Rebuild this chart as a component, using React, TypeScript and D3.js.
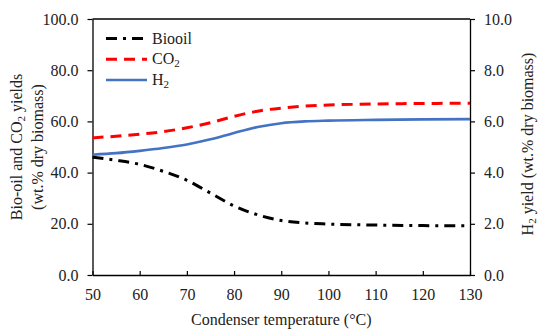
import * as d3 from "d3";
import { useEffect, useRef } from "react";

const temps = [50, 55, 60, 65, 70, 75, 80, 85, 90, 95, 100, 110, 120, 130];
const biooil = [46.0, 44.8, 43.2, 40.5, 37.0, 32.0, 27.0, 23.5, 21.3, 20.3, 19.9, 19.5, 19.3, 19.2];
const co2 = [53.6, 54.2, 55.0, 56.0, 57.5, 59.5, 62.0, 64.0, 65.2, 66.0, 66.4, 66.8, 67.0, 67.1];
const h2 = [4.7, 4.76, 4.85, 4.96, 5.1, 5.3, 5.55, 5.78, 5.93, 6.0, 6.03, 6.06, 6.08, 6.09];

const xTicks = [50, 60, 70, 80, 90, 100, 110, 120, 130];
const leftTicks = [0, 20, 40, 60, 80, 100];
const rightTicks = [0, 2, 4, 6, 8, 10];

const W = 550;
const H = 334;
const m = { left: 92.5, right: 80, top: 19, bottom: 59 };
const FONT = "'Liberation Serif', 'Times New Roman', serif";
const FS = 16;

const draw = (el: SVGSVGElement) => {
  const svg = d3.select(el);
  svg.selectAll("*").remove();
  const x = d3.scaleLinear().domain([50, 130]).range([m.left, W - m.right]);
  const yL = d3.scaleLinear().domain([0, 100]).range([H - m.bottom, m.top]);
  const yR = d3.scaleLinear().domain([0, 10]).range([H - m.bottom, m.top]);

  const g = svg.append("g").style("font-family", FONT);

  // frame top
  g.append("line")
    .attr("x1", x(50)).attr("x2", x(130))
    .attr("y1", yL(100)).attr("y2", yL(100))
    .attr("stroke", "#000").attr("stroke-width", 1.3);

  const styleAxis = (sel: any) => {
    sel.attr("font-family", null).attr("font-size", FS);
    sel.select(".domain").attr("stroke", "#000").attr("stroke-width", 1.3);
    sel.selectAll(".tick line").attr("stroke", "#000").attr("stroke-width", 1.2);
    sel.selectAll(".tick text").attr("fill", "#222").style("font-family", FONT);
  };

  g.append("g")
    .attr("transform", `translate(0,${H - m.bottom})`)
    .call(d3.axisBottom(x).tickValues(xTicks).tickSizeInner(-4).tickSizeOuter(0).tickPadding(14))
    .call(styleAxis);

  g.append("g")
    .attr("transform", `translate(${m.left},0)`)
    .call(d3.axisLeft(yL).tickValues(leftTicks).tickFormat(d3.format(".1f")).tickSizeInner(5).tickSizeOuter(0).tickPadding(9))
    .call(styleAxis);

  g.append("g")
    .attr("transform", `translate(${W - m.right},0)`)
    .call(d3.axisRight(yR).tickValues(rightTicks).tickFormat(d3.format(".1f")).tickSizeInner(5).tickSizeOuter(0).tickPadding(9))
    .call(styleAxis);

  const lineL = d3.line<number>().x((_, i) => x(temps[i])).y((d) => yL(d)).curve(d3.curveMonotoneX);
  const lineR = d3.line<number>().x((_, i) => x(temps[i])).y((d) => yR(d)).curve(d3.curveMonotoneX);

  g.append("path").attr("d", lineR(h2)).attr("fill", "none").attr("stroke", "#4472C4").attr("stroke-width", 2.6);
  g.append("path").attr("d", lineL(co2)).attr("fill", "none").attr("stroke", "#FF0000").attr("stroke-width", 3)
    .attr("stroke-dasharray", "11,7");
  g.append("path").attr("d", lineL(biooil)).attr("fill", "none").attr("stroke", "#000").attr("stroke-width", 3)
    .attr("stroke-dasharray", "11,6,3,6");

  // legend
  const legend = [
    { name: "Biooil", sub: "", color: "#000", dash: "11,6,3,6", w: 3 },
    { name: "CO", sub: "2", color: "#FF0000", dash: "11,7", w: 3 },
    { name: "H", sub: "2", color: "#4472C4", dash: "", w: 2.6 },
  ];
  const ly = d3.scaleLinear().domain([0, 2]).range([38.5, 80]);
  legend.forEach((d, i) => {
    g.append("line")
      .attr("x1", 106).attr("x2", 147).attr("y1", ly(i)).attr("y2", ly(i))
      .attr("stroke", d.color).attr("stroke-width", d.w)
      .attr("stroke-dasharray", d.dash || null);
    const t = g.append("text").attr("x", 152).attr("y", ly(i) + 5).attr("font-size", FS).attr("fill", "#222");
    t.append("tspan").text(d.name);
    if (d.sub) t.append("tspan").attr("font-size", 11).attr("dy", 3).text(d.sub);
  });

  // x title
  g.append("text")
    .attr("x", (x(50) + x(130)) / 2).attr("y", 325)
    .attr("text-anchor", "middle").attr("font-size", FS).attr("fill", "#222")
    .text("Condenser temperature (°C)");

  // left title
  const cy = (yL(0) + yL(100)) / 2;
  const lt = g.append("text")
    .attr("transform", `translate(22,${cy}) rotate(-90)`)
    .attr("text-anchor", "middle").attr("font-size", FS).attr("fill", "#222");
  lt.append("tspan").text("Bio-oil and CO");
  lt.append("tspan").attr("font-size", 11).attr("dy", 3).text("2");
  lt.append("tspan").attr("dy", -3).text(" yields");
  g.append("text")
    .attr("transform", `translate(43,${cy}) rotate(-90)`)
    .attr("text-anchor", "middle").attr("font-size", FS).attr("fill", "#222")
    .text("(wt.% dry biomass)");

  // right title
  const rt = g.append("text")
    .attr("transform", `translate(533,${cy - 3}) rotate(-90)`)
    .attr("text-anchor", "middle").attr("font-size", FS).attr("fill", "#222");
  rt.append("tspan").text("H");
  rt.append("tspan").attr("font-size", 11).attr("dy", 3).text("2");
  rt.append("tspan").attr("dy", -3).text(" yield (wt.% dry biomass)");
};

export default function App() {
  const ref = useRef<SVGSVGElement>(null);
  useEffect(() => {
    if (!ref.current) return;
    draw(ref.current);
  }, []);
  return (
    <svg
      ref={ref}
      width={W}
      height={H}
      style={{ position: "absolute", left: 0, top: 0, background: "#fff" }}
    />
  );
}
